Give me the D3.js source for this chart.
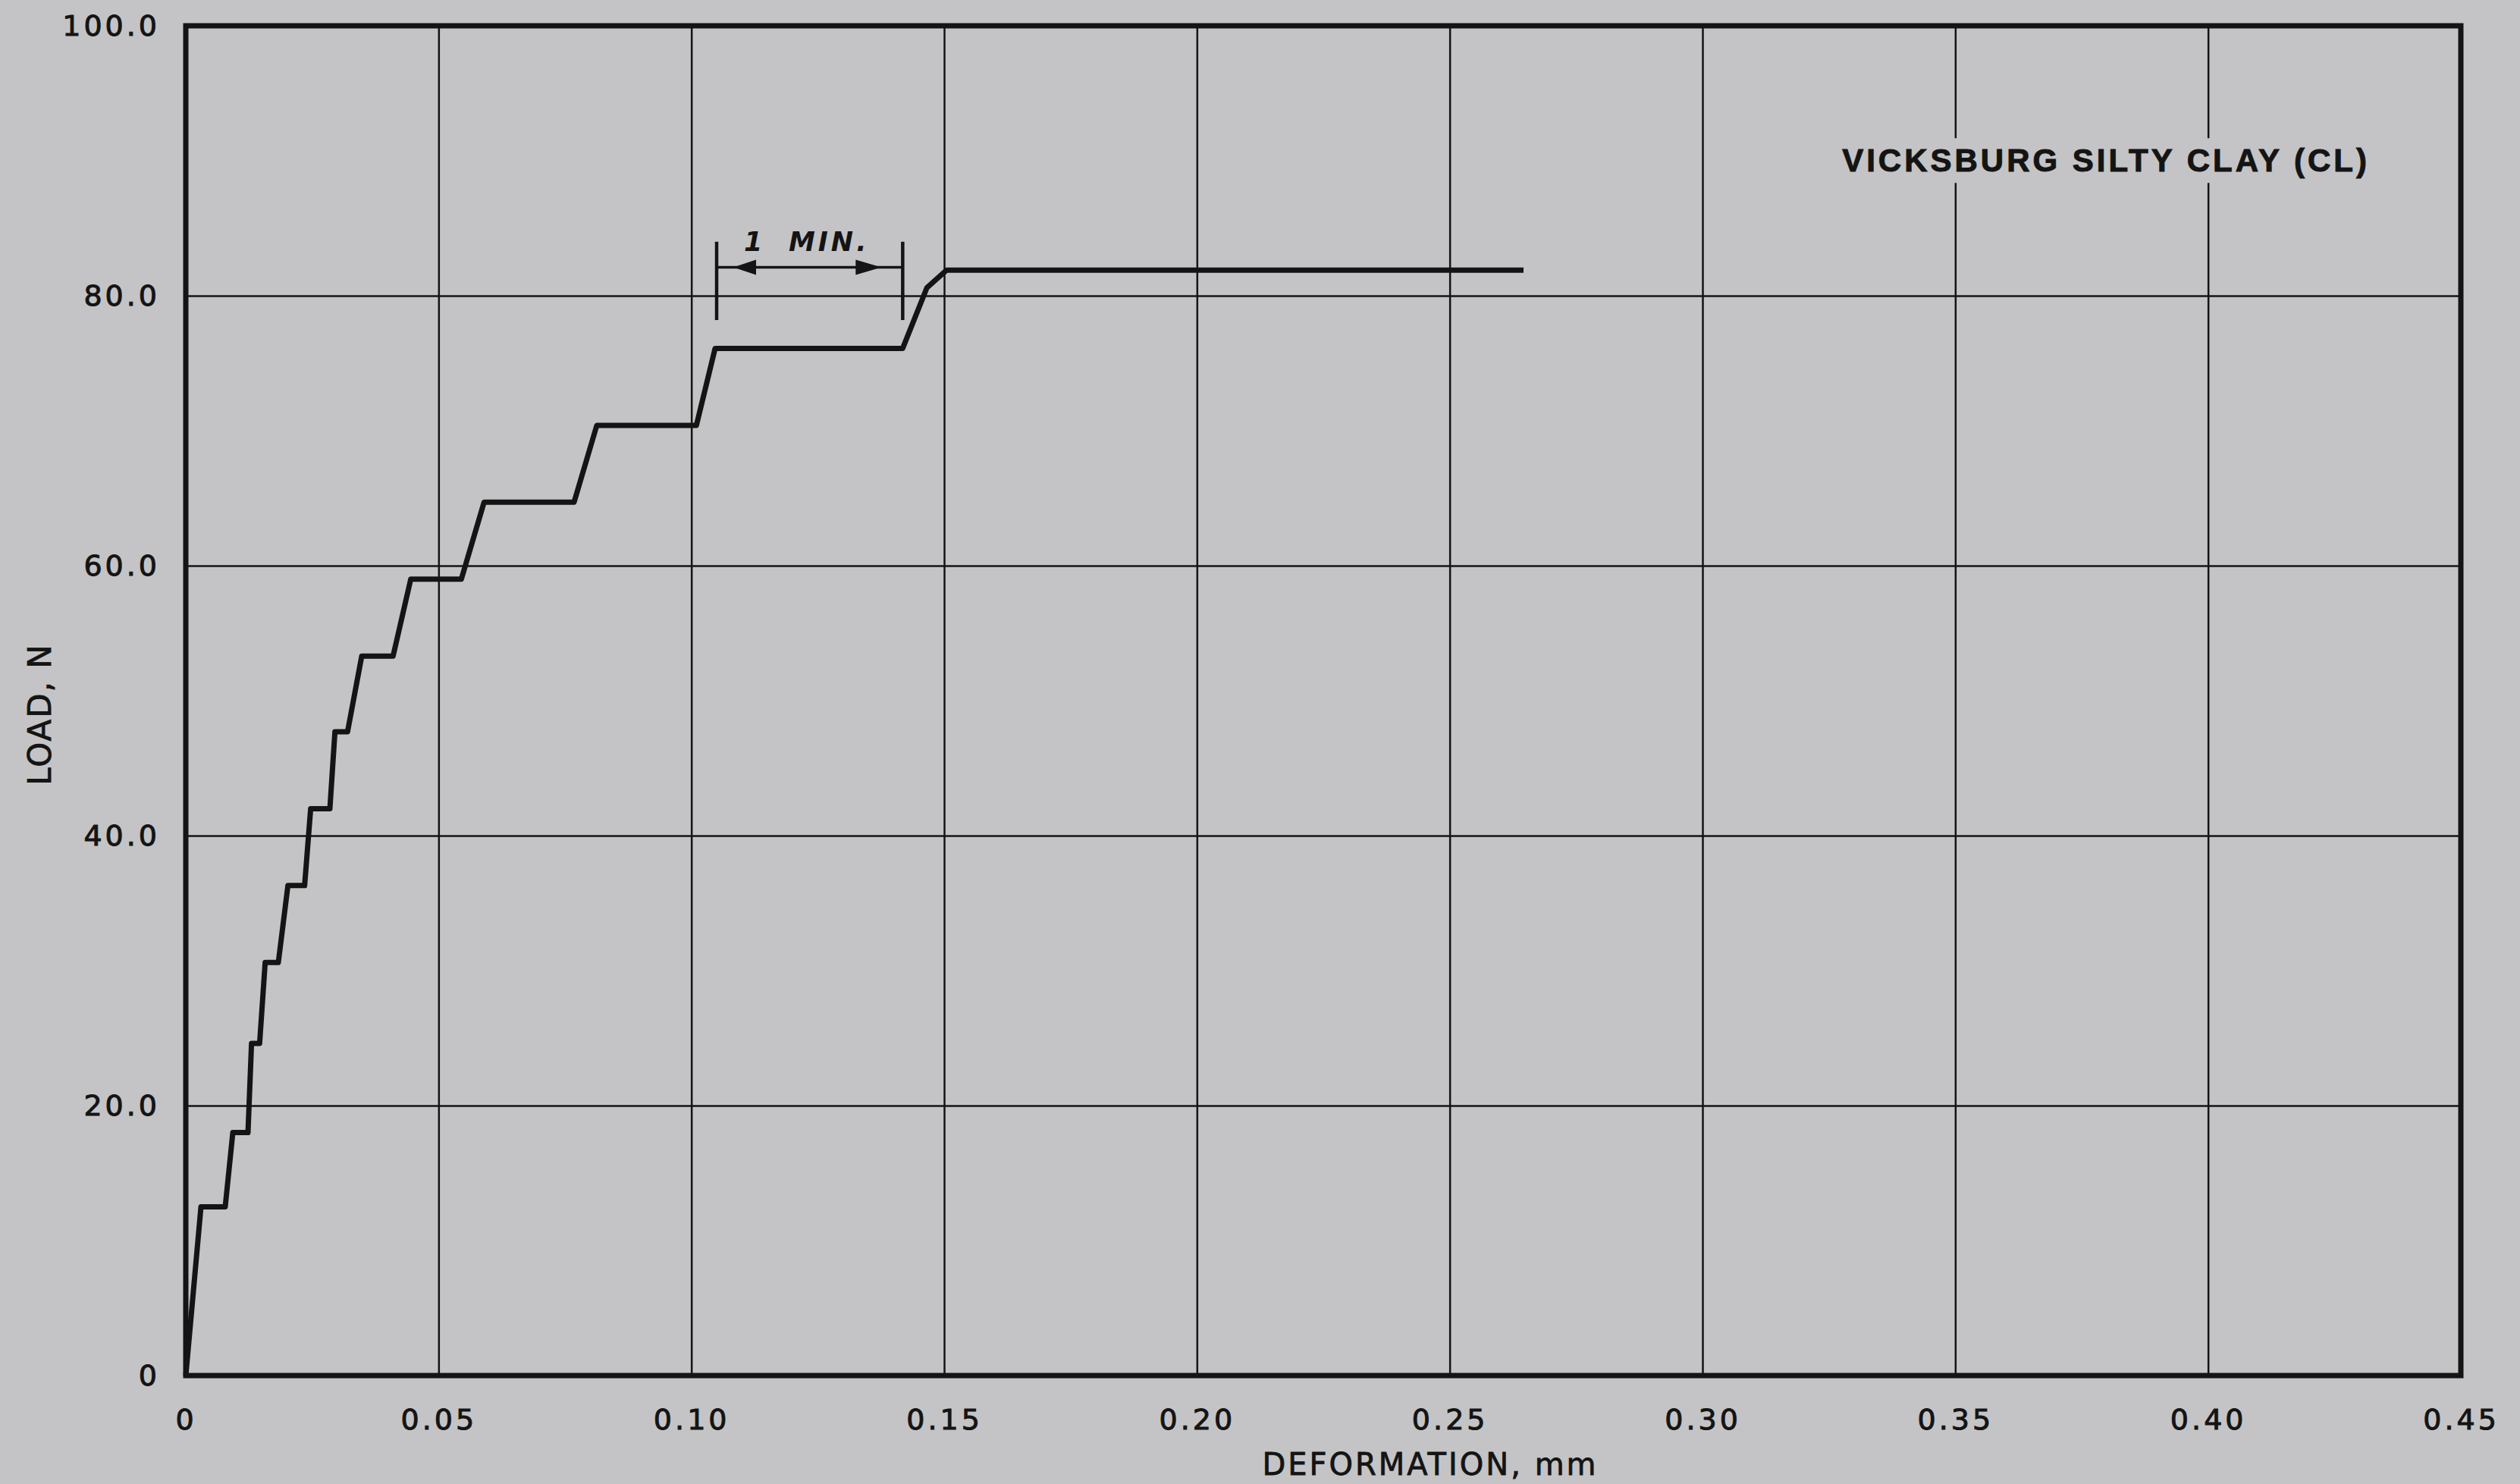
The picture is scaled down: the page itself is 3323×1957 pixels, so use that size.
<!DOCTYPE html>
<html lang="en">
<head>
    <meta charset="utf-8">
    <title>Vicksburg silty clay - load vs deformation</title>
    <script src="https://d3js.org/d3.v7.min.js"></script>
    <style>
        body { margin: 0; background: #c4c4c6; }
        svg { display: block; }
    </style>
</head>
<body onload="main()">
    <svg id="chart" width="3323" height="1957"></svg>
    <script>
        // curve, deformation in mm and load in N
        var deformation = [0, 0.0030, 0.0078, 0.0093, 0.0123, 0.0130, 0.0146, 0.0157, 0.0183, 0.0202,
            0.0235, 0.0247, 0.0285, 0.0295, 0.0320, 0.0348, 0.0410, 0.0445, 0.0545, 0.0590,
            0.0768, 0.0813, 0.1010, 0.1047, 0.1418, 0.1466, 0.1505, 0.2646];
        var load = [0, 12.5, 12.5, 18.0, 18.0, 24.6, 24.6, 30.6, 30.6, 36.3,
            36.3, 42.0, 42.0, 47.7, 47.7, 53.3, 53.3, 59.0, 59.0, 64.7,
            64.7, 70.4, 70.4, 76.1, 76.1, 80.6, 81.9, 81.9];

        var xTicks = [0, 0.05, 0.10, 0.15, 0.20, 0.25, 0.30, 0.35, 0.40, 0.45];
        var xTickLabels = ["0", "0.05", "0.10", "0.15", "0.20", "0.25", "0.30", "0.35", "0.40", "0.45"];
        var yTicks = [0, 20, 40, 60, 80, 100];
        var yTickLabels = ["0", "20.0", "40.0", "60.0", "80.0", "100.0"];

        // "1 MIN." bracket over the 76 N plateau
        var minuteSpan = [0.105, 0.1418];
        var minuteBar = [78.2, 84.0];
        var minuteArrow = 82.1;

        function main() {
            var svg = d3.select("#chart"),
                left = 245,
                top = 34,
                width = 3000,
                height = 1780,
                ink = "#141414",
                paper = "#c4c4c6";

            var x = d3.scaleLinear().domain([0, 0.45]).range([0, width]),
                y = d3.scaleLinear().domain([0, 100]).range([height, 0]);

            var g = svg.append("g")
                .attr("transform", "translate(" + left + "," + top + ")");

            var xAxis = g.append("g")
                .attr("transform", "translate(0," + height + ")")
                .call(d3.axisBottom(x)
                    .tickValues(xTicks)
                    .tickSize(-height)
                    .tickPadding(44)
                    .tickFormat(function (d, i) { return xTickLabels[i]; }));

            var yAxis = g.append("g")
                .call(d3.axisLeft(y)
                    .tickValues(yTicks)
                    .tickSize(-width)
                    .tickPadding(34)
                    .tickFormat(function (d, i) { return yTickLabels[i]; }));

            [xAxis, yAxis].forEach(function (a) {
                a.select(".domain").remove();
                a.selectAll(".tick line")
                    .attr("stroke", ink)
                    .attr("stroke-width", 2.5);
                a.selectAll(".tick text")
                    .attr("fill", ink)
                    .attr("stroke", ink)
                    .attr("stroke-width", 1)
                    .attr("font-family", "DejaVu Sans")
                    .attr("font-size", 38)
                    .attr("letter-spacing", 4);
            });

            // frame
            g.append("rect")
                .attr("x", 0)
                .attr("y", 0)
                .attr("width", width)
                .attr("height", height)
                .attr("fill", "none")
                .attr("stroke", ink)
                .attr("stroke-width", 7);

            // title, with a paper patch so the grid stops around it
            var title = g.append("text")
                .attr("x", x(0.432))
                .attr("y", y(89.2))
                .attr("text-anchor", "end")
                .attr("font-family", "Liberation Sans")
                .attr("font-weight", "bold")
                .attr("font-size", 42)
                .attr("letter-spacing", 4)
                .attr("fill", ink)
                .attr("stroke", ink)
                .attr("stroke-width", 1)
                .text("VICKSBURG SILTY CLAY (CL)");
            var bb = title.node().getBBox();
            g.insert("rect", function () { return title.node(); })
                .attr("x", bb.x - 14)
                .attr("y", bb.y - 6)
                .attr("width", bb.width + 24)
                .attr("height", bb.height + 12)
                .attr("fill", paper);

            // the load curve
            g.append("path")
                .datum(d3.zip(deformation, load))
                .attr("fill", "none")
                .attr("stroke", ink)
                .attr("stroke-width", 7)
                .attr("stroke-linejoin", "round")
                .attr("d", d3.line()
                    .x(function (d) { return x(d[0]); })
                    .y(function (d) { return y(d[1]); }));

            // 1 minute bracket
            var ann = g.append("g").attr("stroke", ink).attr("fill", ink);
            minuteSpan.forEach(function (v) {
                ann.append("line")
                    .attr("x1", x(v)).attr("x2", x(v))
                    .attr("y1", y(minuteBar[0])).attr("y2", y(minuteBar[1]))
                    .attr("stroke-width", 4.5);
            });
            ann.append("line")
                .attr("x1", x(minuteSpan[0])).attr("x2", x(minuteSpan[1]))
                .attr("y1", y(minuteArrow)).attr("y2", y(minuteArrow))
                .attr("stroke-width", 3.5);
            var ay = y(minuteArrow),
                lx = x(minuteSpan[0]) + 22,
                rx = x(minuteSpan[1]) - 28;
            ann.append("path")
                .attr("stroke", "none")
                .attr("d", "M" + lx + "," + ay + "L" + (lx + 30) + "," + (ay - 10) + "L" + (lx + 30) + "," + (ay + 10) + "Z");
            ann.append("path")
                .attr("stroke", "none")
                .attr("d", "M" + rx + "," + ay + "L" + (rx - 34) + "," + (ay - 10) + "L" + (rx - 34) + "," + (ay + 10) + "Z");

            g.append("text")
                .attr("x", x(minuteSpan[0]) + 36)
                .attr("y", y(83.3))
                .attr("font-family", "DejaVu Sans")
                .attr("font-style", "italic")
                .attr("font-weight", "bold")
                .attr("font-size", 35)
                .attr("fill", ink)
                .text("1");
            g.append("text")
                .attr("x", x(minuteSpan[0]) + 95)
                .attr("y", y(83.3))
                .attr("font-family", "DejaVu Sans")
                .attr("font-style", "italic")
                .attr("font-weight", "bold")
                .attr("font-size", 35)
                .attr("letter-spacing", 4)
                .attr("fill", ink)
                .text("MIN.");

            // axis titles
            svg.append("text")
                .attr("x", 1886)
                .attr("y", 1945)
                .attr("text-anchor", "middle")
                .attr("font-family", "DejaVu Sans")
                .attr("font-size", 40)
                .attr("letter-spacing", 3)
                .attr("fill", ink)
                .attr("stroke", ink)
                .attr("stroke-width", 0.8)
                .text("DEFORMATION, mm");

            svg.append("text")
                .attr("transform", "translate(67,942) rotate(-90)")
                .attr("text-anchor", "middle")
                .attr("font-family", "DejaVu Sans")
                .attr("font-size", 42)
                .attr("letter-spacing", 2)
                .attr("fill", ink)
                .attr("stroke", ink)
                .attr("stroke-width", 0.8)
                .text("LOAD, N");
        }
    </script>
</body>
</html>
